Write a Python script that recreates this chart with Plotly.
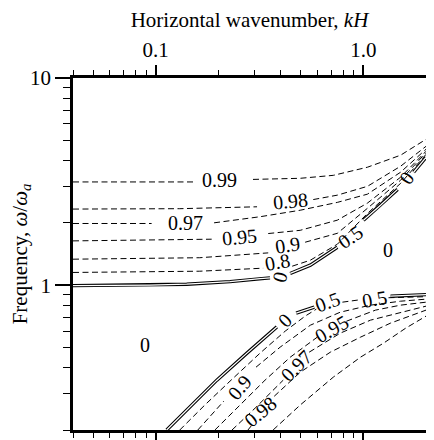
import numpy as np
import plotly.graph_objects as go

# contour lines: kH (x) and omega/omega_a (y); None = gap for a label
# upper branch
up_0_k = [0.04, 0.0935, 0.141, 0.228, 0.318, 0.355, None, 0.444, 0.555, 0.749, None, 1.0, 1.208, 1.46, None, 1.744, 2.0]
up_0_w = [0.995, 1.0, 1.011, 1.04, 1.075, 1.084, None, 1.139, 1.249, 1.525, None, 2.06, 2.43, 2.90, None, 3.51, 4.14]
up_08_k = [0.04, 0.163, 0.329, None, 0.454, 0.555, 0.749, 1.045, 1.509, 2.0]
up_08_w = [1.152, 1.168, 1.208, None, 1.235, 1.32, 1.577, 2.22, 3.10, 4.28]
up_09_k = [0.04, 0.163, 0.348, None, 0.524, 0.749, 1.045, 1.509, 2.0]
up_09_w = [1.335, 1.357, 1.432, None, 1.612, 1.78, 2.35, 3.21, 4.36]
up_095_k = [0.04, 0.186, None, 0.348, 0.496, 0.749, 1.045, 1.509, 2.0]
up_095_w = [1.636, 1.667, None, 1.775, 1.84, 2.06, 2.49, 3.32, 4.43]
up_097_k = [0.04, 0.0956, None, 0.191, 0.318, 0.496, 0.749, 1.045, 1.509, 2.0]
up_097_w = [1.985, 1.985, None, 2.00, 2.14, 2.30, 2.51, 2.75, 3.51, 4.53]
up_098_k = [0.04, 0.1306, 0.3075, None, 0.5735, 0.749, 1.045, 1.509, 2.0]
up_098_w = [2.33, 2.34, 2.39, None, 2.59, 2.72, 3.00, 3.75, 4.68]
up_099_k = [0.04, 0.157, None, 0.294, 0.496, 0.716, 1.045, 1.509, 2.0]
up_099_w = [3.15, 3.15, None, 3.24, 3.28, 3.39, 3.71, 4.24, 5.06]

# lower branch
lo_0_k = [0.113, 0.149, 0.197, 0.275, 0.383, None, 0.4745, 0.58, None, 1.35, 2.0]
lo_0_w = [0.2, 0.264, 0.348, 0.47, 0.629, None, 0.733, 0.783, None, 0.885, 0.90]
lo_05_k = [0.1306, 0.1724, 0.2278, 0.318, 0.42, 0.524, 0.593, None, 0.792, 0.967, None, 1.32, 2.0]
lo_05_w = [0.2, 0.264, 0.344, 0.47, 0.60, 0.709, 0.766, None, 0.828, 0.851, None, 0.870, 0.880]
lo_09_k = [0.1595, 0.213, None, 0.304, 0.397, 0.555, 0.774, 1.081, 1.509, 2.0]
lo_09_w = [0.2, 0.276, None, 0.402, 0.502, 0.641, 0.741, 0.801, 0.837, 0.856]
lo_095_k = [0.1928, 0.2545, 0.336, 0.444, 0.599, None, 0.828, 1.143, 1.509, 2.0]
lo_095_w = [0.2, 0.264, 0.348, 0.449, 0.561, None, 0.670, 0.758, 0.801, 0.828]
lo_097_k = [0.233, 0.301, 0.411, None, 0.548, 0.774, 1.081, 1.509, 2.0]
lo_097_w = [0.2, 0.255, 0.348, None, 0.475, 0.587, 0.678, 0.741, 0.792]
lo_098_k = [0.278, 0.288, None, 0.372, 0.496, 0.693, 0.967, 1.35, 2.0]
lo_098_w = [0.2, 0.209, None, 0.291, 0.380, 0.475, 0.561, 0.656, 0.758]
lo_099_k = [0.3674, 0.4962, 0.7163, 0.9672, 1.249, 1.596, 2.0]
lo_099_w = [0.2, 0.264, 0.360, 0.449, 0.525, 0.620, 0.709]

# contour labels
lab_text = ["0.99", "0.98", "0.97", "0.95", "0.9", "0.8", "0", "0.5", "0", "0", "0",
            "0", "0.5", "0.5", "0.95", "0.97", "0.9", "0.98"]
lab_k = [0.2038, 0.444, 0.1396, 0.2545, 0.4295, 0.384, 0.397, 0.865, 1.613, 1.306, 0.0885,
         0.42, 0.67, 1.13, 0.70, 0.4745, 0.2545, 0.318]
lab_w = [3.21, 2.54, 1.99, 1.714, 1.568, 1.291, 1.093, 1.704, 3.28, 1.475, 0.514,
         0.678, 0.833, 0.856, 0.617, 0.407, 0.322, 0.244]
lab_angle = [0, -5, 0, -5, -8, -10, -75, -35, -55, 0, 0,
             -45, -20, -10, -30, -45, -50, -40]

x_major = [0.1, 1.0]
x_major_text = ["0.1", "1.0"]
x_minor = [0.04, 0.05, 0.06, 0.07, 0.08, 0.09, 0.2, 0.3, 0.4, 0.5, 0.6, 0.7, 0.8, 0.9, 2]
y_major = [1, 10]
y_major_text = ["1", "10"]
y_minor = [0.2, 0.3, 0.4, 0.5, 0.6, 0.7, 0.8, 0.9, 2, 3, 4, 5, 6, 7, 8, 9]

FONT = "Liberation Serif"

fig = go.Figure()

dashed = [(up_08_k, up_08_w), (up_09_k, up_09_w), (up_095_k, up_095_w), (up_097_k, up_097_w),
          (up_098_k, up_098_w), (up_099_k, up_099_w),
          (lo_05_k, lo_05_w), (lo_09_k, lo_09_w), (lo_095_k, lo_095_w), (lo_097_k, lo_097_w),
          (lo_098_k, lo_098_w), (lo_099_k, lo_099_w)]
for k, w in dashed:
    fig.add_trace(go.Scatter(x=k, y=w, mode="lines", showlegend=False, hoverinfo="skip",
                             line=dict(color="black", width=1, dash="6px,3.5px")))

# zero contour drawn as a double line (black with white core)
for k, w in [(up_0_k, up_0_w), (lo_0_k, lo_0_w)]:
    fig.add_trace(go.Scatter(x=k, y=w, mode="lines", showlegend=False, hoverinfo="skip",
                             line=dict(color="black", width=3.4)))
    fig.add_trace(go.Scatter(x=k, y=w, mode="lines", showlegend=False, hoverinfo="skip",
                             line=dict(color="white", width=1.3)))

for t, k, w, a in zip(lab_text, lab_k, lab_w, lab_angle):
    fig.add_annotation(x=np.log10(k), y=np.log10(w), xref="x", yref="y", text=t,
                       showarrow=False, textangle=a, font=dict(family=FONT, size=20, color="black"))

axis_common = dict(type="log", showgrid=False, zeroline=False, showline=True, linewidth=2.5,
                   linecolor="black", mirror="ticks", ticks="outside", tickwidth=1.5,
                   tickcolor="black", automargin=False,
                   tickfont=dict(family=FONT, size=21, color="black"))

# page body has an 8px margin, so the figure is 8px smaller than the window
fig.update_layout(
    width=426, height=432,
    margin=dict(l=65, r=8, t=70, b=10),
    plot_bgcolor="white", paper_bgcolor="white",
    xaxis=dict(axis_common, side="top", range=[np.log10(0.04), np.log10(2)],
               tickmode="array", tickvals=x_major, ticktext=x_major_text, ticklen=10,
               minor=dict(tickmode="array", tickvals=x_minor, ticks="outside", ticklen=5,
                          tickwidth=1.2, tickcolor="black", showgrid=False),
               title=dict(text="Horizontal wavenumber, <i>kH</i>",
                          font=dict(family=FONT, size=21, color="black"), standoff=6)),
    yaxis=dict(axis_common, range=[np.log10(0.2), 1],
               tickmode="array", tickvals=y_major, ticktext=y_major_text, ticklen=15,
               minor=dict(tickmode="array", tickvals=y_minor, ticks="outside", ticklen=7,
                          tickwidth=1.2, tickcolor="black", showgrid=False),
               title=dict(text="Frequency, <i>ω</i>/<i>ω<sub>a</sub></i>",
                          font=dict(family=FONT, size=21, color="black"), standoff=6)),
)

fig.write_html("out.html")
